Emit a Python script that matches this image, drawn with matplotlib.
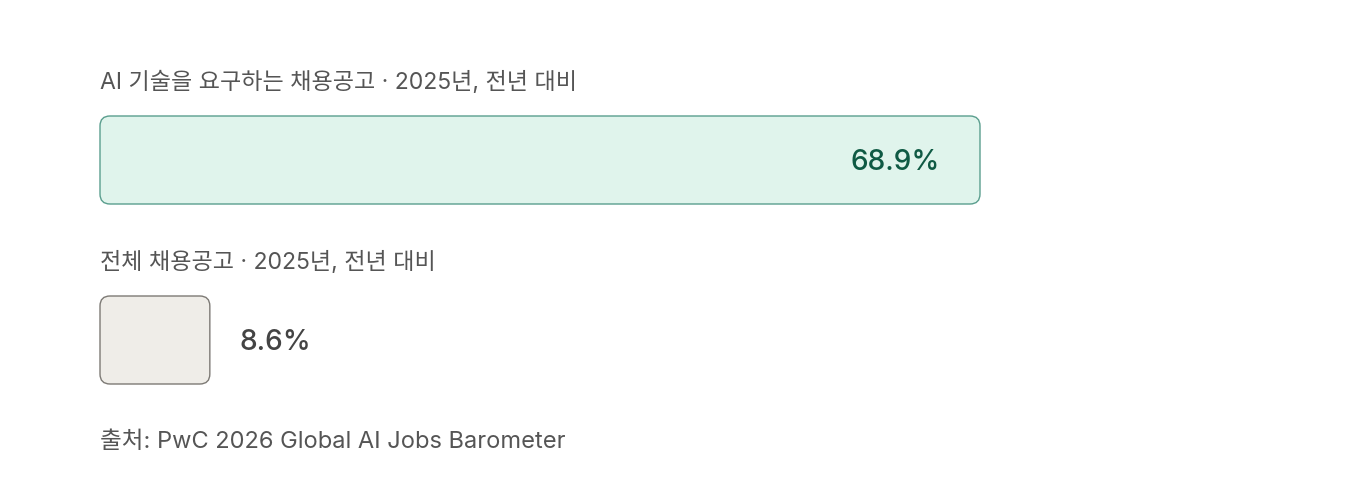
import matplotlib.pyplot as plt
from matplotlib.patches import FancyBboxPatch

plt.rcParams['font.family'] = ['Inter', 'Noto Sans CJK KR', 'DejaVu Sans']

# 데이터
labels = ["AI 기술을 요구하는 채용공고 · 2025년, 전년 대비", "전체 채용공고 · 2025년, 전년 대비"]
values = [68.9, 8.6]
source = "출처: PwC 2026 Global AI Jobs Barometer"

fills = ["#e0f4ec", "#efede8"]
edges = ["#5a9e8e", "#7d7a75"]
txt_colors = ["#0f5a44", "#444444"]

W, H = 1360, 500
fig = plt.figure(figsize=(W / 100, H / 100), dpi=100)
fig.patch.set_facecolor("white")

# x축은 퍼센트, y축은 픽셀 단위
left, right = 100, 980
ax = fig.add_axes([left / W, 0, (right - left) / W, 1])
xmax = max(values)
ax.set_xlim(0, xmax)
ax.set_ylim(H, 0)
ax.axis("off")

px = (right - left) / xmax  # 1% 당 픽셀
bar_h = 88
bar_tops = [116, 296]
label_y = [82, 262]

for i in range(len(values)):
    r = 10 / px
    box = FancyBboxPatch((0, bar_tops[i]), values[i], bar_h,
                         boxstyle=f"round,pad=0,rounding_size={r}",
                         mutation_aspect=px,
                         facecolor=fills[i], edgecolor=edges[i], linewidth=1.0,
                         clip_on=False)
    ax.add_patch(box)
    ax.text(0, label_y[i], labels[i], fontsize=16.6, color="#555555",
            ha="left", va="center")
    yc = bar_tops[i] + bar_h / 2 + 2
    if values[i] * px > 200:
        ax.text(values[i] - 40 / px, yc, f"{values[i]}%", fontsize=20.2,
                color=txt_colors[i], ha="right", va="center", fontweight="medium")
    else:
        ax.text(values[i] + 30 / px, yc, f"{values[i]}%", fontsize=20.2,
                color=txt_colors[i], ha="left", va="center", fontweight="medium")

ax.text(0, 442, source, fontsize=17, color="#555555", ha="left", va="center")

fig.savefig("out.png", dpi=100, facecolor="white")
